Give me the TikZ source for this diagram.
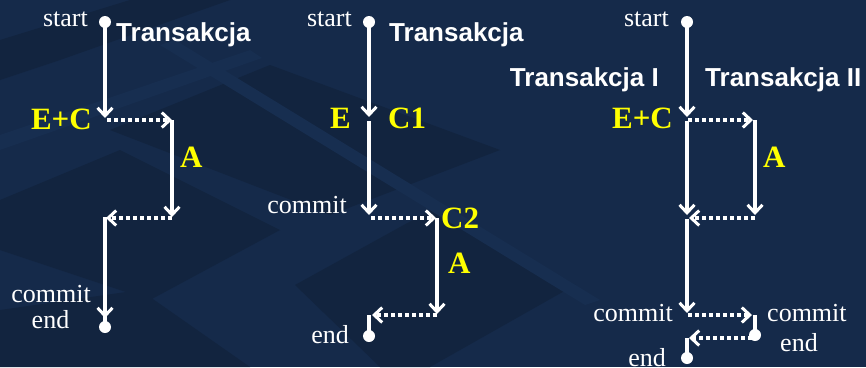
\documentclass[tikz,border=0pt]{standalone}
\usepackage{fontspec}
\setmainfont{Liberation Serif}
\setsansfont{Liberation Sans}
\usetikzlibrary{arrows.meta}
\definecolor{bgnavy}{HTML}{152A4A}
\definecolor{bgdark}{HTML}{12243F}
\definecolor{bglight}{HTML}{172E50}
\definecolor{ylw}{HTML}{FFFF00}
\tikzset{
  flow/.style={draw=white, line width=3.4pt},
  arr/.style={flow, -{Straight Barb[length=8pt,width=15pt,line width=3pt]}},
  darr/.style={arr, dash pattern=on 4pt off 3pt},
  dot/.style={circle, fill=white, inner sep=0pt, minimum size=12pt},
  lbl/.style={text=white, font=\fontsize{26}{26}\selectfont, inner sep=0pt},
  ttl/.style={text=white, font=\sffamily\bfseries\fontsize{26}{26}\selectfont, inner sep=0pt},
  ylbl/.style={text=ylw, font=\bfseries\fontsize{31}{31}\selectfont, inner sep=0pt},
}
\begin{document}
\begin{tikzpicture}[x=1pt,y=-1pt]
\useasboundingbox (0,0) rectangle (866,367);
\clip (0,0) rectangle (866,367);
\fill[bgnavy] (0,0) rectangle (866,367);
% background tiles
\fill[bgdark] (0,40) -- (130,0) -- (230,0) -- (60,60) -- (0,80) -- cycle;
\fill[bgdark] (110,130) -- (270,65) -- (500,150) -- (330,215) -- cycle;
\fill[bgdark] (0,200) -- (120,150) -- (280,230) -- (150,300) -- (0,250) -- cycle;
\fill[bgdark] (295,285) -- (440,205) -- (575,285) -- (430,367) -- (380,367) -- cycle;
\fill[bgdark] (0,310) -- (140,290) -- (250,367) -- (0,367) -- cycle;
\fill[bglight] (0,135) -- (250,50) -- (262,58) -- (0,150) -- cycle;
\fill[bglight] (160,45) -- (175,40) -- (600,300) -- (585,305) -- cycle;

% ---------- diagram 1 ----------
\node[dot] (s1) at (105,22) {};
\coordinate (a1) at (105,118);
\coordinate (a1r) at (107,120);
\coordinate (b1) at (172,120);
\coordinate (b1d) at (172,217);
\coordinate (c1) at (172,218);
\coordinate (c1l) at (106,218);
\coordinate (d1) at (105,217);
\coordinate (d1e) at (105,318);
\node[dot] (e1) at (105,327) {};
\draw[arr] (s1.center) -- (a1);
\draw[darr] (a1r) -- (b1);
\draw[arr] (b1) -- (b1d);
\draw[darr] (c1) -- (c1l);
\draw[flow] (d1) -- (e1.center);
\draw[arr] (d1) -- (d1e);
\node[lbl, anchor=base east] (st1) at (88,26) {start};
\node[ttl, anchor=base west] (t1) at (116,41) {Transakcja};
\node[ylbl, anchor=base east] (ec1) at (92,129) {E+C};
\node[ylbl, anchor=base west] (A1) at (180,167) {A};
\node[lbl, anchor=base east] (cm1) at (91,302) {commit};
\node[lbl, anchor=base] (en1) at (50.5,328) {end};

% ---------- diagram 2 ----------
\node[dot] (s2) at (369,22) {};
\coordinate (a2) at (369,117);
\coordinate (a2b) at (369,121);
\coordinate (b2) at (369,215);
\coordinate (c2) at (371,218);
\coordinate (c2r) at (436,218);
\coordinate (d2) at (437,218);
\coordinate (d2e) at (437,314);
\coordinate (f2) at (437,315);
\coordinate (f2l) at (372,315);
\coordinate (g2) at (369,315);
\node[dot] (e2) at (369,336) {};
\draw[arr] (s2.center) -- (a2);
\draw[arr] (a2b) -- (b2);
\draw[darr] (c2) -- (c2r);
\draw[arr] (d2) -- (d2e);
\draw[darr] (f2) -- (f2l);
\draw[flow] (g2) -- (e2.center);
\node[lbl, anchor=base east] (st2) at (352,26) {start};
\node[ttl, anchor=base west] (t2) at (389,41) {Transakcja};
\node[ylbl, anchor=base east] (E2) at (351,128) {E};
\node[ylbl, anchor=base west] (C12) at (388,128) {C1};
\node[lbl, anchor=base east] (cm2) at (347,213) {commit};
\node[ylbl, anchor=base west] (C22) at (441,228) {C2};
\node[ylbl, anchor=base west] (A2) at (448,273) {A};
\node[lbl, anchor=base east] (en2) at (349,343) {end};

% ---------- diagram 3 ----------
\node[dot] (s3) at (687,22) {};
\coordinate (a3) at (687,117);
\coordinate (a3b) at (687,121);
\coordinate (b3) at (687,215);
\coordinate (r3) at (688,120);
\coordinate (r3e) at (753,120);
\coordinate (q3) at (755,120);
\coordinate (q3e) at (755,215);
\coordinate (p3) at (755,218);
\coordinate (p3e) at (689,218);
\coordinate (m3) at (687,219);
\coordinate (m3e) at (687,313);
\coordinate (n3) at (688,315);
\coordinate (n3e) at (752,315);
\coordinate (o3) at (755,315);
\node[dot] (e3r) at (755,335) {};
\coordinate (u3) at (752,338);
\coordinate (u3e) at (689,338);
\coordinate (v3) at (687,338);
\node[dot] (e3l) at (687,358) {};
\draw[arr] (s3.center) -- (a3);
\draw[arr] (a3b) -- (b3);
\draw[darr] (r3) -- (r3e);
\draw[arr] (q3) -- (q3e);
\draw[darr] (p3) -- (p3e);
\draw[arr] (m3) -- (m3e);
\draw[darr] (n3) -- (n3e);
\draw[flow] (o3) -- (e3r.center);
\draw[darr] (u3) -- (u3e);
\draw[flow] (v3) -- (e3l.center);
\node[lbl, anchor=base east] (st3) at (669,26) {start};
\node[ttl, anchor=base east] (t3a) at (659,86) {Transakcja I};
\node[ttl, anchor=base west] (t3b) at (705,86) {Transakcja II};
\node[ylbl, anchor=base east] (ec3) at (673,128) {E+C};
\node[ylbl, anchor=base west] (A3) at (763,167) {A};
\node[lbl, anchor=base east] (cm3a) at (673,321) {commit};
\node[lbl, anchor=base west] (cm3b) at (767,321) {commit};
\node[lbl, anchor=base west] (en3b) at (780,351) {end};
\node[lbl, anchor=base east] (en3a) at (666,366) {end};
\end{tikzpicture}
\end{document}
